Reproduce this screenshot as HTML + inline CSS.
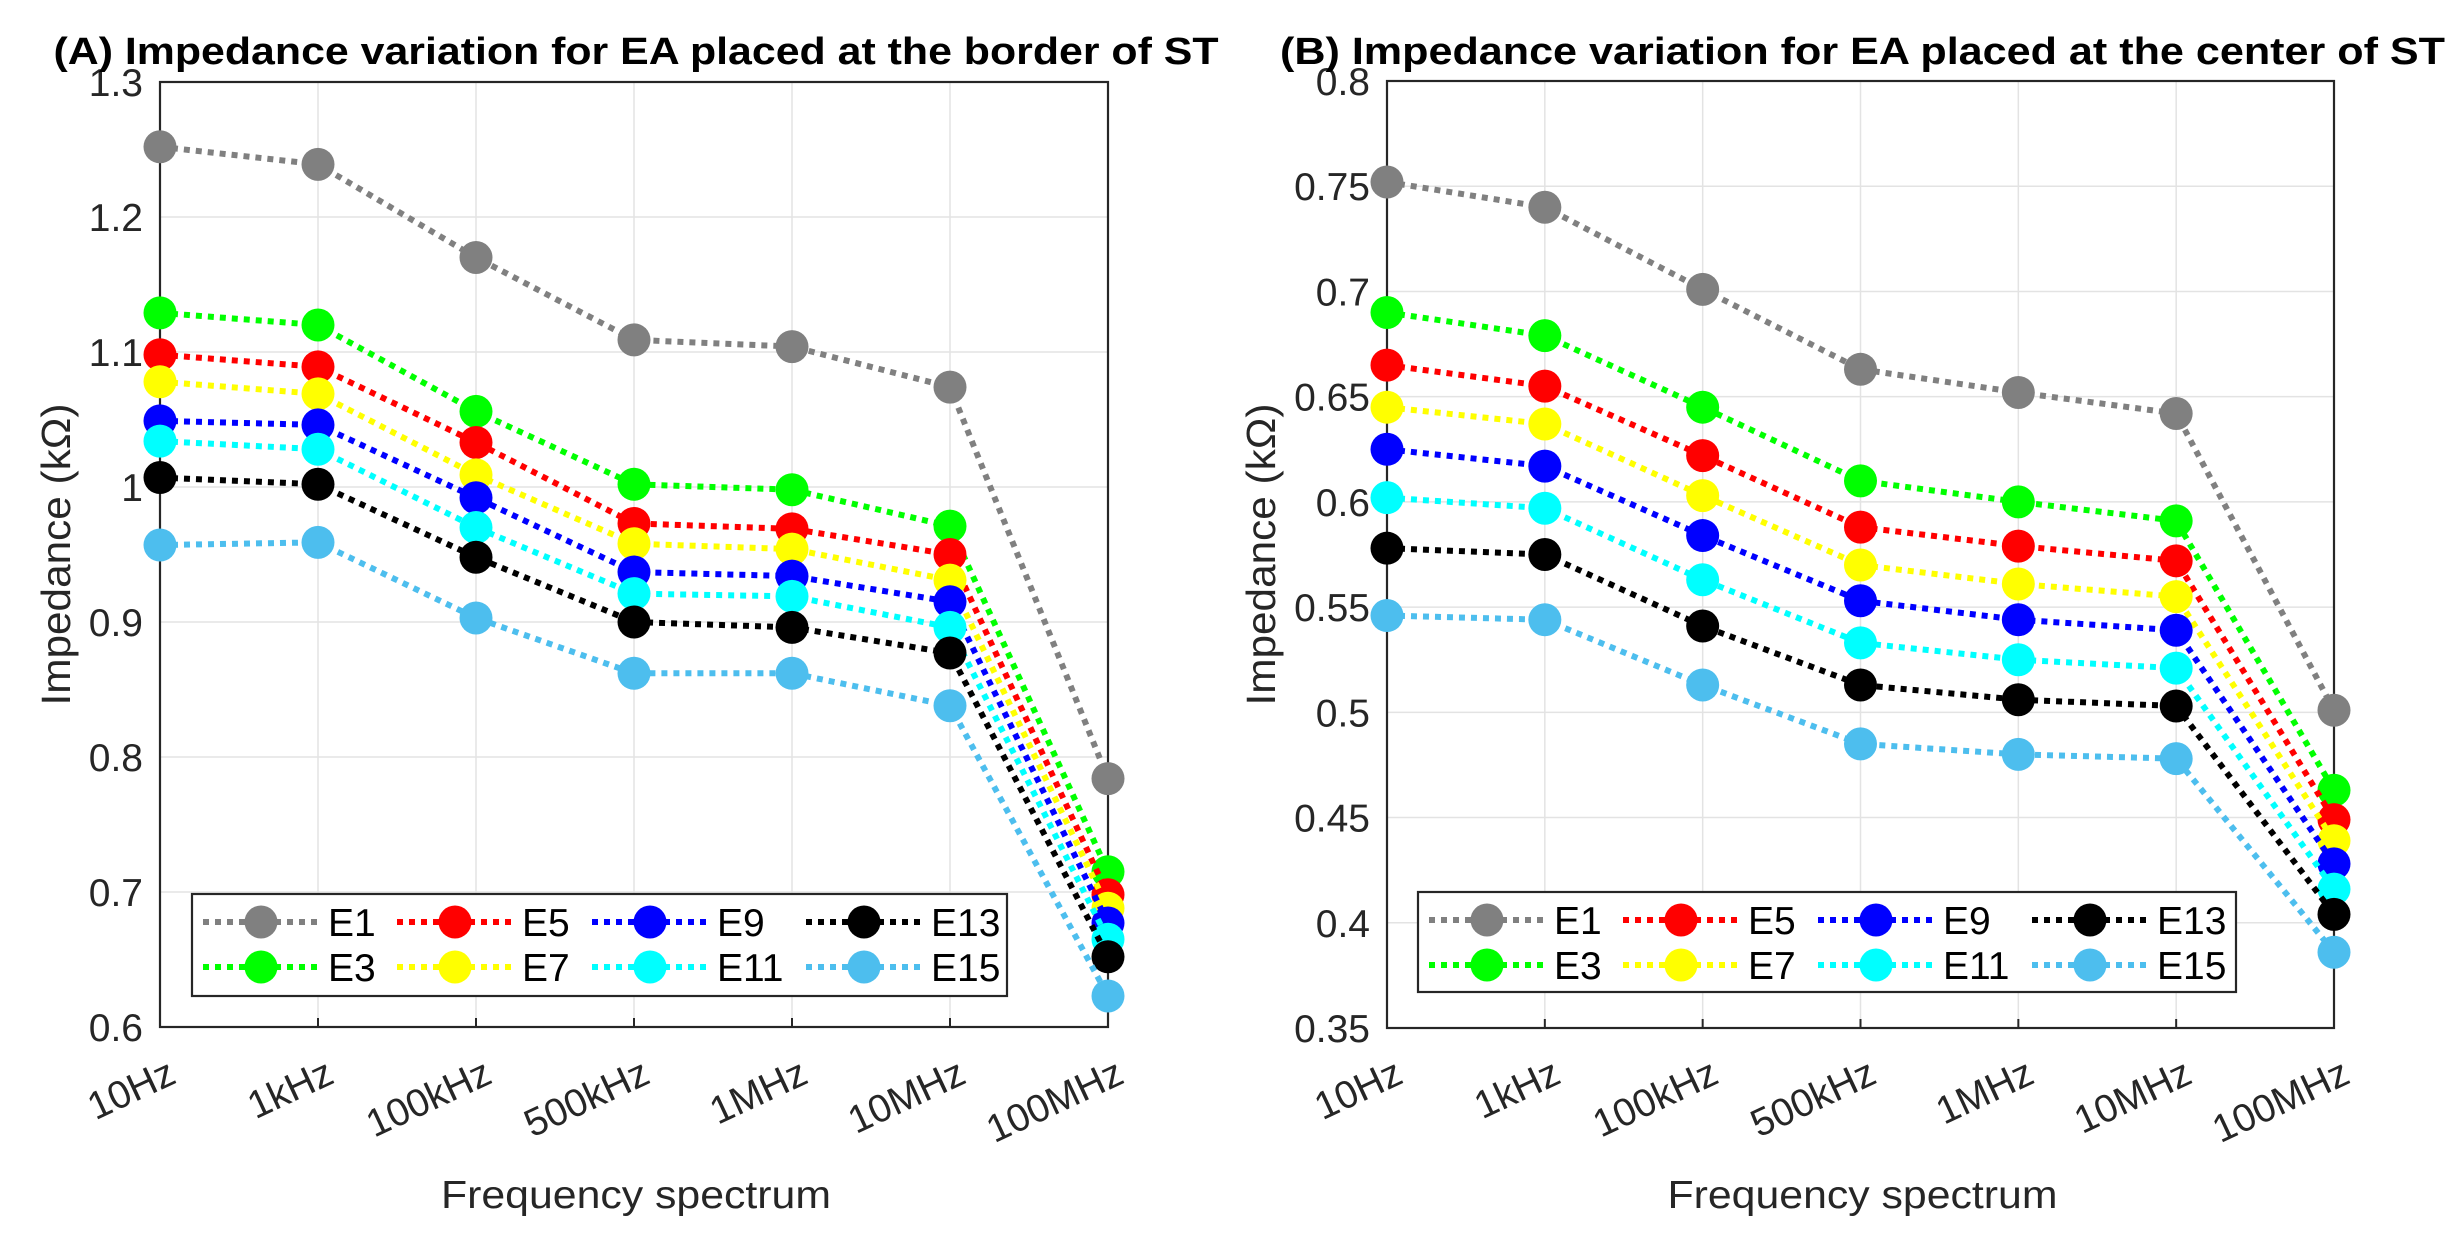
<!DOCTYPE html>
<html><head><meta charset="utf-8">
<style>html,body{margin:0;padding:0;background:#fff}svg{display:block}</style>
</head><body>
<svg id="s" xmlns="http://www.w3.org/2000/svg" width="2462" height="1242" viewBox="0 0 2462 1242" font-family="Liberation Sans, Arial, sans-serif"></svg>
<script>
const S=document.getElementById('s');let h='';
const cols=['#808080','#00ff00','#ff0000','#ffff00','#0000ff','#00ffff','#000000','#4dbeee'];
const names=['E1','E3','E5','E7','E9','E11','E13','E15'];
const cats=['10Hz','1kHz','100kHz','500kHz','1MHz','10MHz','100MHz'];
const A={L:160,R:1108,T:82,B:1027,ymin:0.6,ymax:1.3,step:0.1,dec:1,yl:90,title:'(A) Impedance variation for EA placed at the border of ST',
 data:[[1.252,1.239,1.170,1.109,1.104,1.074,0.784],[1.129,1.120,1.056,1.002,0.998,0.971,0.715],[1.098,1.089,1.033,0.973,0.969,0.950,0.698],[1.078,1.069,1.009,0.958,0.954,0.931,0.688],[1.049,1.046,0.992,0.937,0.934,0.915,0.677],[1.034,1.028,0.970,0.921,0.919,0.896,0.665],[1.007,1.002,0.948,0.900,0.896,0.877,0.652],[0.957,0.959,0.903,0.862,0.862,0.838,0.623]],
 leg:{x:192,y:894,w:815,h:102}};
const B={L:1387,R:2334,T:81,B:1028,ymin:0.35,ymax:0.8,step:0.05,dec:2,yl:112,title:'(B) Impedance variation for EA placed at the center of ST',
 data:[[0.752,0.740,0.701,0.663,0.652,0.642,0.501],[0.690,0.679,0.645,0.610,0.600,0.591,0.463],[0.665,0.655,0.622,0.588,0.579,0.572,0.449],[0.645,0.637,0.603,0.570,0.561,0.555,0.439],[0.625,0.617,0.584,0.553,0.544,0.539,0.428],[0.602,0.597,0.563,0.533,0.525,0.521,0.416],[0.578,0.575,0.541,0.513,0.506,0.503,0.404],[0.546,0.544,0.513,0.485,0.480,0.478,0.386]],
 leg:{x:1418,y:892,w:818,h:100}};
function fmt(v,d){let s=v.toFixed(d);s=s.replace(/0+$/,'').replace(/\.$/,'');return s;}
function panel(P){
 const X=i=>P.L+i*(P.R-P.L)/6, Y=v=>P.B-(v-P.ymin)/(P.ymax-P.ymin)*(P.B-P.T);
 const n=Math.round((P.ymax-P.ymin)/P.step);
 for(let k=0;k<=n;k++){const v=P.ymin+k*P.step,y=Y(v);
  h+=`<line x1="${P.L}" x2="${P.R}" y1="${y}" y2="${y}" stroke="#e3e3e3" stroke-width="1.5"/>`;
  h+=`<text x="${P.L-17}" y="${y+14}" font-size="39" text-anchor="end" fill="#262626">${fmt(v,P.dec)}</text>`;}
 for(let i=0;i<7;i++){const x=X(i);
  h+=`<line x1="${x}" x2="${x}" y1="${P.T}" y2="${P.B}" stroke="#e3e3e3" stroke-width="1.5"/>`;
  h+=`<line x1="${x}" x2="${x}" y1="${P.B}" y2="${P.B-9}" stroke="#262626" stroke-width="2"/>`;
  h+=`<text transform="translate(${x+18},${1082}) rotate(-25)" font-size="39" text-anchor="end" fill="#262626">${cats[i]}</text>`;}
 h+=`<rect x="${P.L}" y="${P.T}" width="${P.R-P.L}" height="${P.B-P.T}" fill="none" stroke="#262626" stroke-width="2.2"/>`;
 P.data.forEach((d,j)=>{
  const pts=d.map((v,i)=>X(i)+','+Y(v)).join(' ');
  h+=`<polyline points="${pts}" fill="none" stroke="${cols[j]}" stroke-width="6" stroke-dasharray="6 6"/>`;
  d.forEach((v,i)=>h+=`<circle cx="${X(i)}" cy="${Y(v)}" r="16.5" fill="${cols[j]}"/>`);
 });
 const lg=P.leg;
 h+=`<rect x="${lg.x}" y="${lg.y}" width="${lg.w}" height="${lg.h}" fill="#fff" stroke="#262626" stroke-width="2.2"/>`;
 const cx=[11,205,400,614];
 for(let j=0;j<8;j++){const c=Math.floor(j/2),r=j%2;const x0=lg.x+cx[c],y=lg.y+28+r*45;
  h+=`<line x1="${x0}" x2="${x0+116}" y1="${y}" y2="${y}" stroke="${cols[j]}" stroke-width="6" stroke-dasharray="6 6"/>`;
  h+=`<circle cx="${x0+58}" cy="${y}" r="16.5" fill="${cols[j]}"/>`;
  h+=`<text x="${x0+125}" y="${y+14}" font-size="39" fill="#000">${names[j]}</text>`;}
 const cxm=(P.L+P.R)/2;
 h+=`<text x="${cxm+2}" y="64" font-size="38" font-weight="bold" text-anchor="middle" textLength="1165" lengthAdjust="spacingAndGlyphs" fill="#000">${P.title}</text>`;
 h+=`<text x="${cxm+2}" y="1208" font-size="39" text-anchor="middle" textLength="390" lengthAdjust="spacingAndGlyphs" fill="#262626">Frequency spectrum</text>`;
 h+=`<text transform="translate(${P.L-P.yl},${(P.T+P.B)/2}) rotate(-90)" font-size="41" text-anchor="middle" textLength="302" lengthAdjust="spacingAndGlyphs" fill="#262626">Impedance (kΩ)</text>`;
}
panel(A);panel(B);
S.innerHTML=h;
</script>
</body></html>
